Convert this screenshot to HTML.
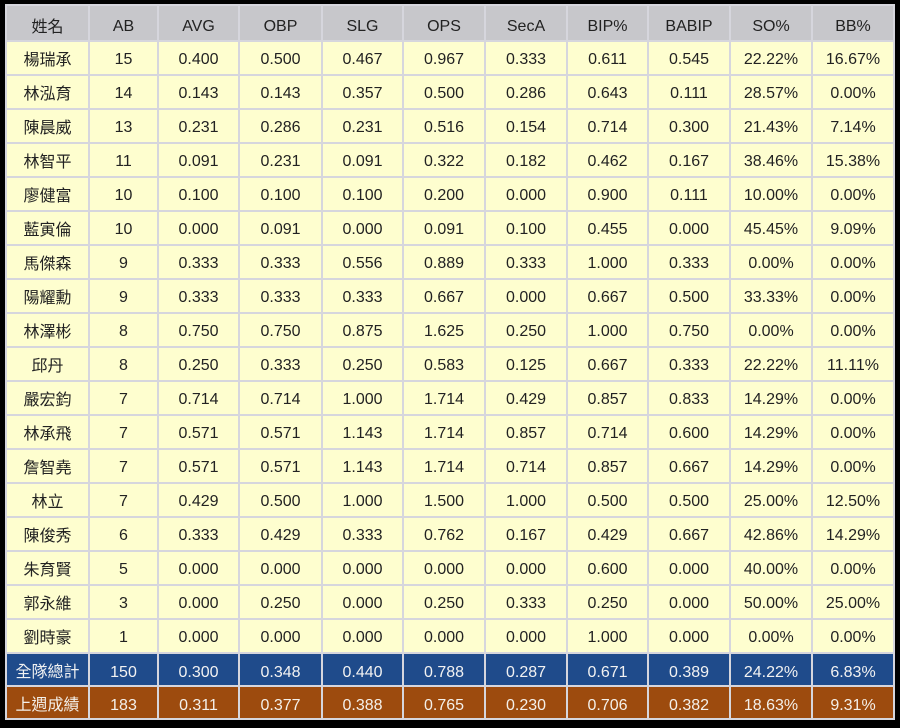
<!DOCTYPE html>
<html><head><meta charset="utf-8">
<style>
html,body{margin:0;padding:0;}
body{width:900px;height:728px;background:#000;position:relative;overflow:hidden;
font-family:"Liberation Sans","Noto Sans CJK TC",sans-serif;}
.g{position:absolute;left:5px;top:4px;display:grid;
grid-template-columns:81px 67px 79px 81px 79px 80px 80px 79px 80px 80px 80px;
grid-template-rows:34px repeat(18,32px) 31px 31px;gap:2px;padding:2px;background:#d6d6dd;}
.g div{display:flex;align-items:center;justify-content:center;font-size:16px;color:#222;background:#fefecf;white-space:nowrap;box-sizing:border-box;padding-top:4px;line-height:16px;}
.g div:nth-child(11n+1){padding-top:5px;}
.g div.h{background:#c7c7cb;color:#222;padding-top:7px;}
.g div.h:first-child{padding-top:9px;}
.g div.b{background:#1f4b8b;color:#f2f2f2;padding-top:6px;}
.g div.o{background:#9d4b0e;color:#f4f0ea;padding-top:6px;}
.g div.b:nth-child(11n+1),.g div.o:nth-child(11n+1){padding-top:7px;}
</style></head><body>
<div class="g">
<div class="h">姓名</div><div class="h">AB</div><div class="h">AVG</div><div class="h">OBP</div><div class="h">SLG</div><div class="h">OPS</div><div class="h">SecA</div><div class="h">BIP%</div><div class="h">BABIP</div><div class="h">SO%</div><div class="h">BB%</div>
<div>楊瑞承</div><div>15</div><div>0.400</div><div>0.500</div><div>0.467</div><div>0.967</div><div>0.333</div><div>0.611</div><div>0.545</div><div>22.22%</div><div>16.67%</div>
<div>林泓育</div><div>14</div><div>0.143</div><div>0.143</div><div>0.357</div><div>0.500</div><div>0.286</div><div>0.643</div><div>0.111</div><div>28.57%</div><div>0.00%</div>
<div>陳晨威</div><div>13</div><div>0.231</div><div>0.286</div><div>0.231</div><div>0.516</div><div>0.154</div><div>0.714</div><div>0.300</div><div>21.43%</div><div>7.14%</div>
<div>林智平</div><div>11</div><div>0.091</div><div>0.231</div><div>0.091</div><div>0.322</div><div>0.182</div><div>0.462</div><div>0.167</div><div>38.46%</div><div>15.38%</div>
<div>廖健富</div><div>10</div><div>0.100</div><div>0.100</div><div>0.100</div><div>0.200</div><div>0.000</div><div>0.900</div><div>0.111</div><div>10.00%</div><div>0.00%</div>
<div>藍寅倫</div><div>10</div><div>0.000</div><div>0.091</div><div>0.000</div><div>0.091</div><div>0.100</div><div>0.455</div><div>0.000</div><div>45.45%</div><div>9.09%</div>
<div>馬傑森</div><div>9</div><div>0.333</div><div>0.333</div><div>0.556</div><div>0.889</div><div>0.333</div><div>1.000</div><div>0.333</div><div>0.00%</div><div>0.00%</div>
<div>陽耀勳</div><div>9</div><div>0.333</div><div>0.333</div><div>0.333</div><div>0.667</div><div>0.000</div><div>0.667</div><div>0.500</div><div>33.33%</div><div>0.00%</div>
<div>林澤彬</div><div>8</div><div>0.750</div><div>0.750</div><div>0.875</div><div>1.625</div><div>0.250</div><div>1.000</div><div>0.750</div><div>0.00%</div><div>0.00%</div>
<div>邱丹</div><div>8</div><div>0.250</div><div>0.333</div><div>0.250</div><div>0.583</div><div>0.125</div><div>0.667</div><div>0.333</div><div>22.22%</div><div>11.11%</div>
<div>嚴宏鈞</div><div>7</div><div>0.714</div><div>0.714</div><div>1.000</div><div>1.714</div><div>0.429</div><div>0.857</div><div>0.833</div><div>14.29%</div><div>0.00%</div>
<div>林承飛</div><div>7</div><div>0.571</div><div>0.571</div><div>1.143</div><div>1.714</div><div>0.857</div><div>0.714</div><div>0.600</div><div>14.29%</div><div>0.00%</div>
<div>詹智堯</div><div>7</div><div>0.571</div><div>0.571</div><div>1.143</div><div>1.714</div><div>0.714</div><div>0.857</div><div>0.667</div><div>14.29%</div><div>0.00%</div>
<div>林立</div><div>7</div><div>0.429</div><div>0.500</div><div>1.000</div><div>1.500</div><div>1.000</div><div>0.500</div><div>0.500</div><div>25.00%</div><div>12.50%</div>
<div>陳俊秀</div><div>6</div><div>0.333</div><div>0.429</div><div>0.333</div><div>0.762</div><div>0.167</div><div>0.429</div><div>0.667</div><div>42.86%</div><div>14.29%</div>
<div>朱育賢</div><div>5</div><div>0.000</div><div>0.000</div><div>0.000</div><div>0.000</div><div>0.000</div><div>0.600</div><div>0.000</div><div>40.00%</div><div>0.00%</div>
<div>郭永維</div><div>3</div><div>0.000</div><div>0.250</div><div>0.000</div><div>0.250</div><div>0.333</div><div>0.250</div><div>0.000</div><div>50.00%</div><div>25.00%</div>
<div>劉時豪</div><div>1</div><div>0.000</div><div>0.000</div><div>0.000</div><div>0.000</div><div>0.000</div><div>1.000</div><div>0.000</div><div>0.00%</div><div>0.00%</div>
<div class="b">全隊總計</div><div class="b">150</div><div class="b">0.300</div><div class="b">0.348</div><div class="b">0.440</div><div class="b">0.788</div><div class="b">0.287</div><div class="b">0.671</div><div class="b">0.389</div><div class="b">24.22%</div><div class="b">6.83%</div>
<div class="o">上週成績</div><div class="o">183</div><div class="o">0.311</div><div class="o">0.377</div><div class="o">0.388</div><div class="o">0.765</div><div class="o">0.230</div><div class="o">0.706</div><div class="o">0.382</div><div class="o">18.63%</div><div class="o">9.31%</div>
</div>
</body></html>
